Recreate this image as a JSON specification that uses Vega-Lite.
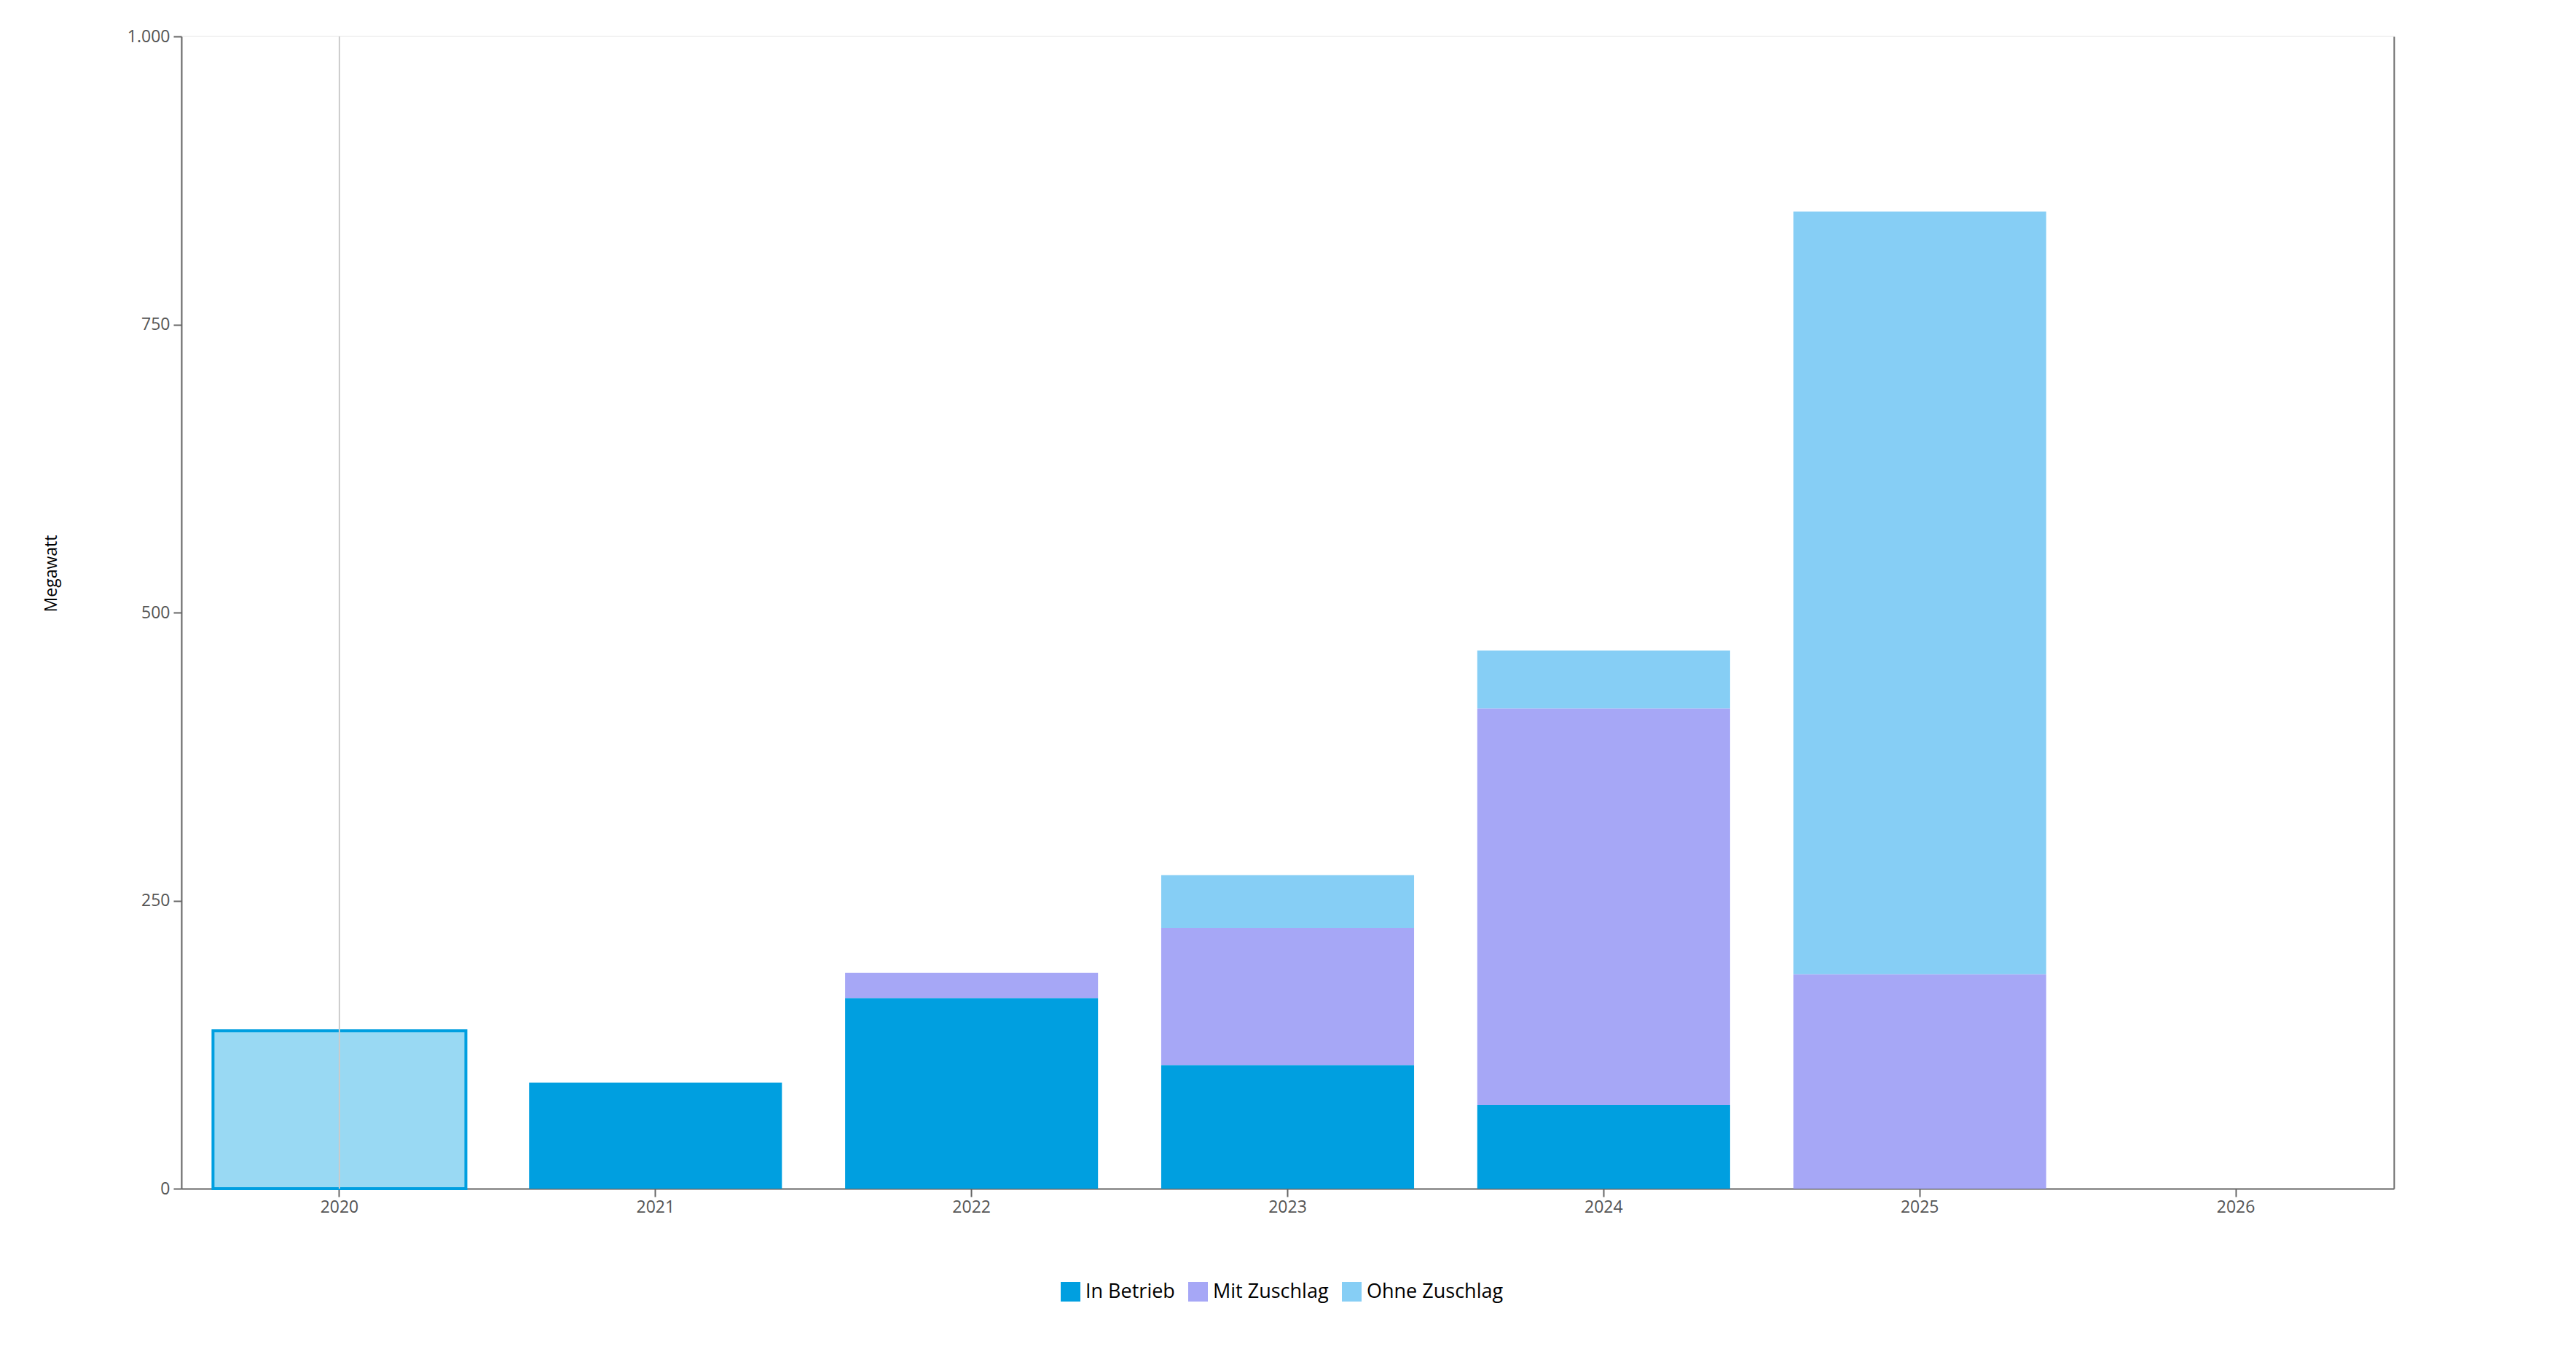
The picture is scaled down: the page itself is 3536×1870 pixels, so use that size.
{
  "$schema": "https://vega.github.io/schema/vega-lite/v6.json",
  "background": "white",
  "width": 3037,
  "height": 1582,
  "autosize": "none",
  "padding": {"left": 249, "top": 50, "right": 250, "bottom": 238},
  "config": {
    "font": "Open Sans",
    "view": {"stroke": "#f2f2f2", "strokeWidth": 2},
    "axis": {
      "domainColor": "#666666",
      "domainWidth": 2,
      "tickColor": "#666666",
      "tickWidth": 2,
      "tickSize": 11,
      "labelColor": "#555555",
      "labelFontSize": 23,
      "labelFont": "Open Sans",
      "grid": false
    }
  },
  "datasets": {
    "leistung": [
      {"year": 2020, "status": "In Betrieb", "mw": 137},
      {"year": 2021, "status": "In Betrieb", "mw": 92},
      {"year": 2022, "status": "In Betrieb", "mw": 165.5},
      {"year": 2022, "status": "Mit Zuschlag", "mw": 21.7},
      {"year": 2023, "status": "In Betrieb", "mw": 107.3},
      {"year": 2023, "status": "Mit Zuschlag", "mw": 119},
      {"year": 2023, "status": "Ohne Zuschlag", "mw": 45.8},
      {"year": 2024, "status": "In Betrieb", "mw": 72.7},
      {"year": 2024, "status": "Mit Zuschlag", "mw": 344.1},
      {"year": 2024, "status": "Ohne Zuschlag", "mw": 50.2},
      {"year": 2025, "status": "Mit Zuschlag", "mw": 186.2},
      {"year": 2025, "status": "Ohne Zuschlag", "mw": 661.7}
    ],
    "hover": [
      {"year": 2020, "lo": 0, "hi": 1000}
    ]
  },
  "resolve": {"axis": {"y": "independent"}},
  "layer": [
    {
      "data": {"name": "leistung"},
      "mark": {"type": "bar", "stroke": "#009fe0"},
      "encoding": {
        "x": {
          "field": "year",
          "type": "ordinal",
          "scale": {
            "domain": [2020, 2021, 2022, 2023, 2024, 2025, 2026],
            "paddingInner": 0.2,
            "paddingOuter": 0.1
          },
          "axis": {"title": null, "labelAngle": 0, "labelPadding": 3}
        },
        "y": {
          "field": "mw",
          "type": "quantitative",
          "aggregate": "sum",
          "stack": "zero",
          "scale": {"domain": [0, 1000], "nice": false},
          "axis": {
            "title": "Megawatt",
            "titleFont": "Open Sans",
            "titleFontSize": 23,
            "titleFontWeight": "normal",
            "titleColor": "#000000",
            "titleX": -167,
            "titleY": 737,
            "values": [0, 250, 500, 750, 1000],
            "labelPadding": 5,
            "labelExpr": "replace(format(datum.value, ','), ',', '.')"
          }
        },
        "order": {"field": "status", "sort": "ascending"},
        "color": {
          "field": "status",
          "type": "nominal",
          "scale": {
            "domain": ["In Betrieb", "Mit Zuschlag", "Ohne Zuschlag"],
            "range": ["#009fe0", "#a6a7f6", "#86cef5"]
          },
          "legend": {
            "title": null,
            "orient": "none",
            "direction": "horizontal",
            "legendX": 1207,
            "legendY": 1710,
            "symbolType": "square",
            "symbolSize": 729,
            "symbolStrokeWidth": 0,
            "labelFontSize": 27,
            "labelColor": "#000000",
            "labelFont": "Open Sans",
            "labelLimit": 0,
            "labelOffset": 7,
            "columnPadding": 18
          }
        },
        "fillOpacity": {
          "condition": {"test": "datum.year == 2020", "value": 0.4},
          "value": 1
        },
        "strokeWidth": {
          "condition": {"test": "datum.year == 2020", "value": 4},
          "value": 0
        }
      }
    },
    {
      "data": {"name": "hover"},
      "mark": {"type": "rule", "color": "#cccccc", "strokeWidth": 2},
      "encoding": {
        "x": {"field": "year", "type": "ordinal"},
        "y": {
          "field": "lo",
          "type": "quantitative",
          "axis": {
            "orient": "right",
            "title": null,
            "labels": false,
            "ticks": false
          }
        },
        "y2": {"field": "hi"}
      }
    }
  ]
}
